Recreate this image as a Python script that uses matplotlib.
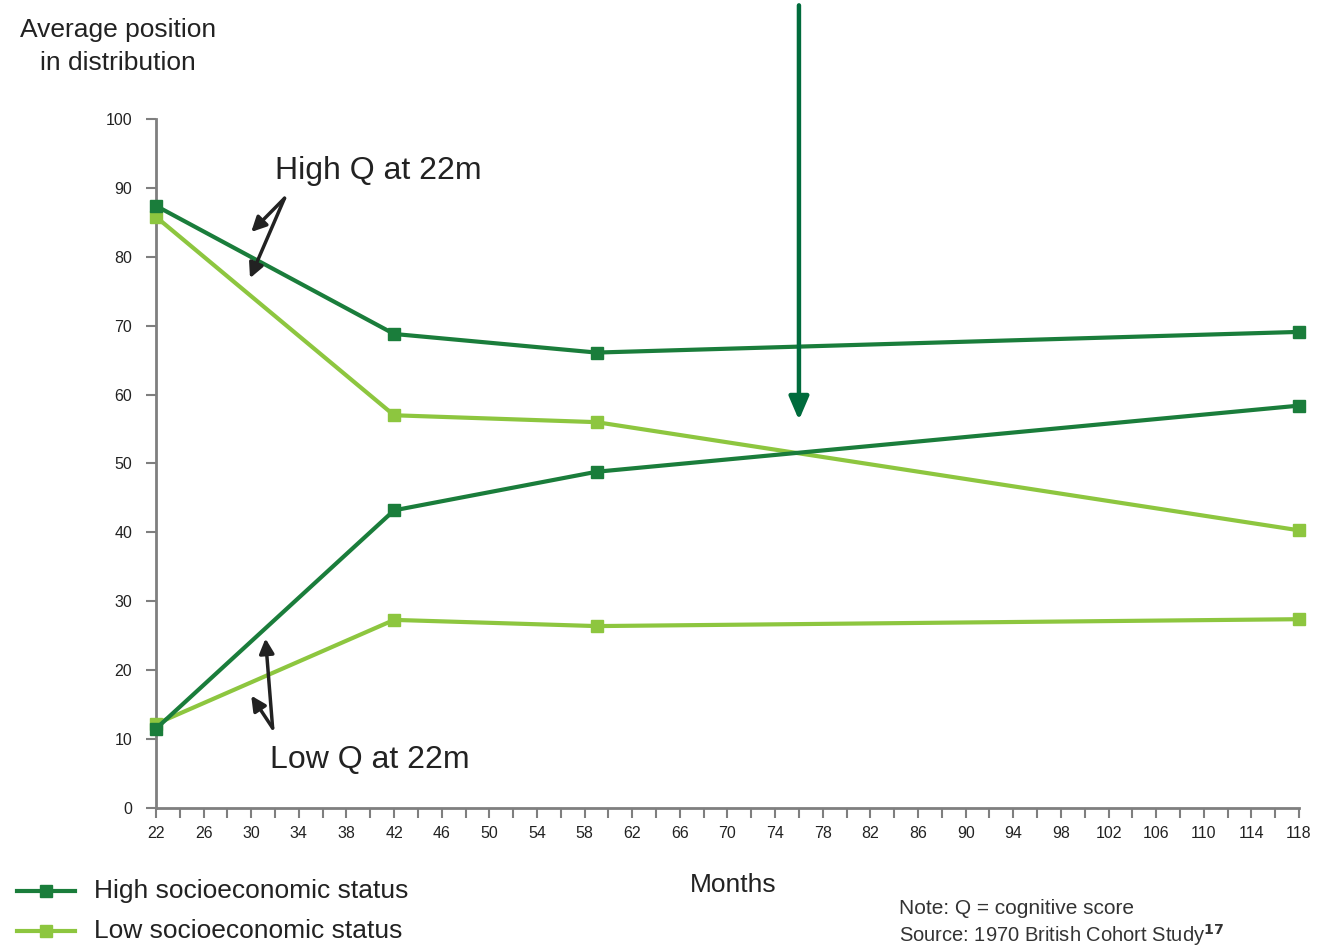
import matplotlib.pyplot as plt
from matplotlib.ticker import FixedLocator

plt.rcParams['font.family'] = ['Liberation Sans', 'DejaVu Sans']

months = [22, 42, 59, 118]
high_ses_high_q = [87.4, 68.8, 66.1, 69.1]
low_ses_high_q = [85.8, 57.0, 56.0, 40.3]
high_ses_low_q = [11.5, 43.2, 48.8, 58.4]
low_ses_low_q = [12.2, 27.3, 26.4, 27.4]

dark = '#1a7d3b'
light = '#8dc63f'
grey = '#7f7f7f'

fig = plt.figure(figsize=(13.42, 9.46), dpi=100)
ax = fig.add_axes([0.1162, 0.1459, 0.8518, 0.7283])

style = dict(lw=3, marker='s', ms=9, clip_on=False, zorder=3)
ax.plot(months, low_ses_high_q, color=light, **style)
ax.plot(months, low_ses_low_q, color=light, **style)
ax.plot(months, high_ses_high_q, color=dark, **style)
ax.plot(months, high_ses_low_q, color=dark, **style)

ax.set_xlim(22, 118)
ax.set_ylim(0, 100)
ax.xaxis.set_major_locator(FixedLocator(range(22, 119, 4)))
ax.xaxis.set_minor_locator(FixedLocator(range(22, 119, 2)))
ax.yaxis.set_major_locator(FixedLocator(range(0, 101, 10)))
for s in ['top', 'right']:
    ax.spines[s].set_visible(False)
for s in ['left', 'bottom']:
    ax.spines[s].set_color(grey)
    ax.spines[s].set_linewidth(2)
ax.tick_params(which='both', colors=grey, labelcolor='#222222', width=1.5)
ax.tick_params(axis='x', which='major', length=7, labelsize=11.5, pad=6)
ax.tick_params(axis='x', which='minor', length=7)
ax.tick_params(axis='y', length=7, labelsize=11.5, pad=10)

# annotations
ax.text(32, 92.5, 'High Q at 22m', fontsize=23, color='#222222', va='center')
ax.text(31.6, 7.0, 'Low Q at 22m', fontsize=23, color='#222222', va='center')
arr = dict(arrowstyle='-|>', color='#222222', lw=2.5, mutation_scale=22, shrinkA=0, shrinkB=0)
ax.annotate('', xy=(30.0, 83.6), xytext=(32.8, 88.5), arrowprops=arr)
ax.annotate('', xy=(29.9, 76.9), xytext=(32.8, 88.5), arrowprops=arr)
ax.annotate('', xy=(31.2, 24.6), xytext=(31.8, 11.6), arrowprops=arr)
ax.annotate('', xy=(30.0, 16.3), xytext=(31.8, 11.6), arrowprops=arr)

ax.annotate('', xy=(76, 56.3), xycoords='data', xytext=(76, 116.5),
            arrowprops=dict(arrowstyle='-|>,head_length=0.7,head_width=0.3',
                            color='#006b3c', lw=3.2,
                            mutation_scale=20, shrinkA=0, shrinkB=0),
            annotation_clip=False)

fig.text(0.088, 0.951, 'Average position\nin distribution', fontsize=19,
         ha='center', va='center', color='#222222', linespacing=1.45)
fig.text(0.546, 0.065, 'Months', fontsize=19, ha='center', va='center', color='#222222')

# legend
lx = [0.013, 0.056]
fig.add_artist(plt.Line2D(lx, [0.058, 0.058], color=dark, lw=3, transform=fig.transFigure))
fig.add_artist(plt.Line2D([0.0345], [0.058], color=dark, marker='s', ms=9, transform=fig.transFigure))
fig.add_artist(plt.Line2D(lx, [0.016, 0.016], color=light, lw=3, transform=fig.transFigure))
fig.add_artist(plt.Line2D([0.0345], [0.016], color=light, marker='s', ms=9, transform=fig.transFigure))
fig.text(0.07, 0.058, 'High socioeconomic status', fontsize=19, va='center', color='#222222')
fig.text(0.07, 0.016, 'Low socioeconomic status', fontsize=19, va='center', color='#222222')

fig.text(0.670, 0.040, 'Note: Q = cognitive score', fontsize=15, va='center', color='#333333')
fig.text(0.670, 0.012, 'Source: 1970 British Cohort Study$^{\\mathbf{17}}$', fontsize=14.5,
         va='center', color='#333333')

fig.savefig('out.png', dpi=100)
